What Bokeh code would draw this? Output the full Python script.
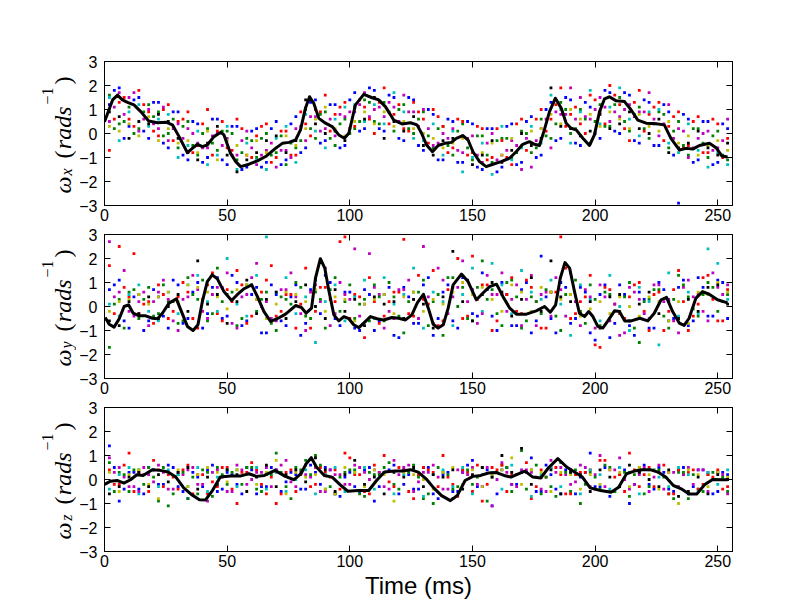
from bokeh.plotting import figure
from bokeh.models import Range1d, LinearAxis, FixedTicker, CustomJSTickFormatter
from bokeh.layouts import column, row
from bokeh.core.properties import value
from bokeh.embed import file_html
from bokeh.resources import INLINE

# ---------------- data ----------------
x_ticks = [0, 50, 100, 150, 200, 250]
y_ticks = [-3, -2, -1, 0, 1, 2, 3]
x_label = "Time (ms)"
y_subs = ["x", "y", "z"]

# sample times of the scattered trial points (ms)
dot_t = list(range(2, 256, 4))      # first group of trials
dot_t2 = list(range(4, 256, 4))     # second group of trials

# ---- omega_x: mean trace ----
t_x = [0, 3.3, 5.3, 7.3, 9.4, 12, 14.8, 18, 21.6, 25, 27.7, 30.4, 33.8, 35.8, 37.9, 39.9, 41.9, 44.6, 47.4, 48.7,
       51.4, 53.5, 55.5, 58.9, 62.3, 65.7, 69.7, 72.5, 75.2, 77.9, 79.9, 81.9, 83.6, 85.3, 87.4, 90.1, 92.8, 95.5, 97.8, 99.6,
       102.3, 105.7, 109.1, 111.8, 114.5, 117.9, 121.3, 124.7, 127.4, 129.3, 131.3, 133.7, 136, 138.7, 141.4, 143.4, 146.1, 148.2, 150.2, 152.9,
       155.6, 158.3, 161.7, 165.1, 167.8, 170.5, 173.2, 175.3, 177.3, 179.3, 181.4, 183.8, 186.2, 188.2, 190.2, 192.3, 195, 197.7, 199.7, 201.8,
       203.8, 205.8, 208.6, 212, 214.7, 217.4, 220.8, 224.8, 228.2, 230.9, 234.4, 237.1, 239.8, 242.5, 246.6, 249.3, 251.7, 254]
w_x = [0.49, 1.4, 1.6, 1.4, 1.3, 1.19, 0.91, 0.52, 0.45, 0.47, 0.36, -0.13, -0.8, -0.62, -0.45, -0.55, -0.48, -0.13, 0.05, -0.06,
       -0.83, -1.17, -1.38, -1.28, -1.14, -0.96, -0.62, -0.41, -0.37, -0.27, 0.15, 1.05, 1.53, 1.26, 0.63, 0.43, 0.29, -0.06, -0.2, 0.01,
       1.19, 1.63, 1.49, 1.4, 1.12, 0.56, 0.4, 0.45, 0.36, 0.0, -0.48, -0.76, -0.5, -0.41, -0.37, -0.2, -0.09, -0.27, -0.76, -1.17,
       -1.38, -1.28, -1.17, -1.03, -0.76, -0.45, -0.34, -0.45, -0.5, 0.15, 0.91, 1.47, 1.05, 0.43, 0.22, 0.15, -0.2, -0.5, -0.06, 0.91,
       1.44, 1.53, 1.36, 1.33, 0.98, 0.56, 0.43, 0.41, 0.36, -0.2, -0.69, -0.62, -0.65, -0.5, -0.41, -0.59, -0.94, -0.98]

# ---- omega_x: trial points per colour ----
x_b = [1.2, 1.9, 0.3, 1.5, -0.2, 1.3, -0.6, 0.9, -1.1, 0.4, -1.0, 0.6, -1.3, 0.3, -1.4, 0.2,
       -1.2, 0.5, -1.1, 0.7, -0.6, 1.4, -0.3, 1.2, -0.5, 1.7, 0.2, 1.8, 0.1, 1.5, -0.3, 1.4,
       -0.7, 0.8, -1.1, 0.5, -1.2, 0.4, -1.5, 0.2, -1.4, 0.4, -1.2, 0.7, -0.9, 1.3, -0.2, 1.4,
       -0.5, 1.1, -0.2, 1.7, 0.0, 1.6, -0.4, 1.3, -0.5, 0.9, -2.9, 0.6, -1.1, 0.5, -1.2, 0.2]
x_g = [1.6, 0.4, 1.1, 0.2, 1.2, 0.9, 0.0, -0.6, 0.5, -0.9, 0.2, -0.7, 0.1, -1.1, -0.2, -1.0,
       0.0, -0.8, -1.3, -0.6, 1.0, -0.2, 0.9, -0.5, 0.6, 0.2, 1.4, 0.5, 1.3, 0.1, 1.2, 0.0,
       0.9, -0.6, 0.3, -0.9, 0.4, -1.1, -0.1, -1.2, -0.2, -1.0, 0.1, -0.8, 0.6, -0.2, 1.3, 0.0,
       1.0, -0.4, 1.2, 0.3, 1.5, 0.1, 1.1, -0.2, 0.9, -0.6, 0.5, -0.9, 0.2, -1.0, 0.1, -1.1]
x_r = [-0.7, 1.3, 0.6, 1.8, 0.9, -0.1, 1.2, 0.5, 0.9, -0.5, 1.0, 0.1, -0.6, 0.6, -0.9, -0.1,
       0.4, -1.0, 0.1, -0.9, 0.4, 1.0, 1.6, 0.8, 1.3, 0.3, 1.1, 0.0, 1.9, 0.8, 0.2, 1.3,
       0.6, 1.0, 0.3, -0.6, 0.5, -0.8, 0.2, -1.0, -0.3, -1.3, 0.6, -0.4, 1.0, 0.6, 1.9, 0.8,
       0.4, 1.6, 0.9, 2.0, 1.2, -0.3, 1.8, 0.8, 1.3, 0.3, 0.9, -0.5, 0.7, -0.8, 0.4, -0.2]
x_c = [1.5, -0.3, 0.9, 1.2, 0.3, 0.6, 0.8, -1.0, -0.5, 0.1, -1.3, -0.9, 0.3, -1.5, -0.4, -1.1,
       -1.5, -0.2, 0.3, -1.2, 0.8, 0.1, -0.6, 0.6, 1.1, 1.2, 0.5, 1.2, 0.4, 1.7, 0.9, -0.2,
       -0.3, 0.4, -0.9, 0.1, -1.6, -1.0, -0.4, -1.7, 0.3, -1.1, -0.6, 0.3, -0.4, 1.6, 1.0, -0.4,
       0.9, 1.8, 0.4, 1.1, 1.9, 0.6, -0.1, 0.9, 1.0, -0.4, -0.8, 0.4, -0.7, -1.4, -0.8, -1.3]
x_m = [0.5, 1.7, 1.5, 0.1, 1.0, 0.2, -0.3, 0.4, 0.2, -0.4, -0.6, 0.0, -0.2, -0.9, 0.1, -1.3,
       -0.7, -1.4, -0.7, 0.2, -0.3, 0.7, 0.2, -0.1, 0.7, 0.9, 1.7, 1.0, 0.7, 1.1, 1.6, 0.9,
       1.0, -0.5, 0.0, 0.2, -0.8, -0.1, -1.2, 0.0, -0.9, -0.3, -1.5, -1.4, 0.2, -0.6, 0.8, 1.9,
       1.5, 0.6, 1.5, 0.5, 0.7, 1.2, 0.9, 1.7, -0.1, 1.2, 0.2, -1.0, -0.2, 0.1, -0.6, 0.6]
x_y = [0.3, 0.1, 0.4, -0.1, 0.7, -0.3, 0.2, -0.4, -0.3, -0.8, 0.1, -1.1, -0.3, -0.5, -0.9, -0.3,
       -0.8, -0.6, -0.1, -0.5, 0.2, 0.6, 1.1, 0.2, -0.1, 0.5, 0.9, 0.4, 0.9, 0.3, 0.5, 0.2,
       0.0, -0.2, -0.6, -0.4, -0.2, -0.7, -0.8, -0.4, -0.9, -0.2, -0.5, 0.1, 0.2, 0.8, 0.4, 1.0,
       0.6, 0.8, 0.3, 0.9, 0.6, 0.2, 0.8, 0.3, 0.1, 0.5, -0.4, -0.1, -0.9, -0.5, -0.3, -0.7]
x_k = [0.9, 0.7, -0.2, 0.5, 0.4, 0.8, 0.5, -0.2, -0.8, -1.1, -0.4, 0.3, -0.9, -1.6, -1.1, -0.8,
       -0.3, -0.1, -0.8, -0.3, 1.4, 0.4, 0.0, 0.1, -0.3, 1.1, 0.6, 1.5, -0.2, 0.5, 0.1, 0.7,
       -0.5, -0.9, -0.3, -0.2, -0.1, -1.3, -0.9, -0.3, -1.2, -0.7, 0.0, -0.5, -0.2, 1.9, 0.3, 0.2,
       -0.1, 0.1, 0.8, 0.2, 0.4, 0.9, 0.2, 0.0, 0.6, -0.8, -0.6, -0.4, 0.1, -0.6, -0.9, -0.4]
# second group (times dot_t2)
x2_b = [1.8, -0.2, 1.4, 0.1, 1.3, -0.4, 0.9, -0.9, 0.5, -1.2, 0.6, -1.1, 0.3, -1.5, 0.1, -1.4,
        0.2, -1.3, 0.4, -0.8, 1.3, -0.4, 1.2, -0.6, 1.4, 0.1, 1.9, 0.2, 1.6, -0.2, 1.5, -0.5,
        1.0, -1.1, 0.6, -1.2, 0.5, -1.4, 0.2, -1.6, 0.3, -1.3, 0.5, -1.0, 1.0, -0.3, 1.5, -0.4,
        1.3, 0.0, 1.8, 0.1, 1.7, -0.3, 1.4, -0.5, 1.2, -0.9, 0.8, -1.2, 0.5, -1.3, 0.4]
x2_r = [0.6, 1.5, 0.3, 1.2, 0.1, 1.0, -0.3, 0.6, -0.8, 0.4, -0.9, 0.5, -0.7, 0.2, -1.0, 0.3,
        -1.2, 0.1, -0.9, 0.9, -0.1, 0.9, 0.1, 1.1, 0.2, 1.4, 0.6, 1.3, 0.4, 1.2, 0.1, 0.9,
        -0.4, 0.7, -0.8, 0.6, -0.9, 0.3, -1.1, 0.2, -1.0, 0.4, -0.7, 0.6, 0.1, 1.2, 0.3, 1.1,
        0.0, 1.4, 0.4, 1.6, 0.2, 1.3, 0.1, 1.1, -0.3, 0.7, -0.6, 0.5, -0.8, 0.6, -1.0]
x2_m = [1.1, 0.8, 1.7, 0.6, 0.4, 1.1, 0.2, -0.2, 0.0, -0.6, -0.1, -0.5, -0.9, -0.3, -0.6, -0.9,
        -0.4, -0.7, -1.0, 0.3, 0.7, 0.1, 0.6, 0.8, 0.9, 1.2, 0.7, 1.1, 1.3, 0.5, 0.9, 0.3,
        0.2, -0.4, -0.2, -0.7, -0.2, -0.9, -0.4, -1.1, -0.7, -0.5, -0.2, -0.3, 0.6, 0.9, 0.8, 0.6,
        0.7, 1.0, 1.1, 0.9, 1.0, 0.7, 0.9, 0.6, 0.4, -0.2, 0.1, -0.6, 0.0, -0.7, -0.3]
x2_g = [0.2, 0.5, 0.0, 0.9, 0.7, -0.1, 0.6, 0.3, -0.5, 0.0, -0.4, 0.1, 0.0, -0.8, -0.3, -0.2,
        -0.9, -0.1, -0.4, -0.3, 0.2, 0.8, -0.2, 0.4, 0.0, 0.5, 1.3, 0.4, 0.9, 1.0, 0.2, 0.6,
        -0.1, 0.2, -0.5, 0.1, -0.6, -0.1, -0.9, -0.3, -0.2, -0.8, 0.0, -0.6, -0.1, 0.4, 1.0, 0.2,
        0.6, 0.5, 0.3, 1.2, 0.5, 0.8, 0.2, 0.4, 0.8, 0.1, -0.5, 0.2, -0.4, -0.1, -0.9]

# ---- omega_y: mean trace ----
t_y = [0.3, 1.9, 3.9, 6, 8, 9.8, 11.7, 14.1, 16.8, 19.5, 21.6, 23.6, 26.3, 29.3, 31.1, 33.8, 36.1, 38.1, 39.9, 41.9,
       43.9, 46, 48.7, 51.8, 54.1, 56.9, 60, 62.3, 65, 67.7, 70.4, 73.8, 77.9, 80.3, 82.2, 84.4, 86, 88, 89.8, 91.4,
       93.5, 95.5, 97.6, 99.6, 101.6, 103.7, 106.4, 108.4, 111.1, 113.8, 117.2, 119.9, 122.7, 125.3, 127.5, 130, 132, 134, 136, 138.1,
       140.1, 142.1, 145.5, 148.2, 151.6, 154.3, 157, 159.8, 162.4, 165.2, 167.9, 172, 176, 179.4, 181.7, 183.9, 185.8, 187.7, 189.6, 191.6,
       193.6, 195.7, 197.4, 199.1, 201.1, 203.1, 205.2, 207.9, 209.9, 212.1, 214.7, 218.2, 221.5, 224.1, 226.9, 229.1, 231.6, 234.3, 236.3, 238.3,
       241.1, 243.8, 246.5, 249.9, 254]
w_y = [-0.46, -0.74, -0.86, -0.51, 0, 0.07, -0.28, -0.39, -0.39, -0.49, -0.51, -0.28, 0.14, 0.32, -0.14, -0.83, -1.0, -0.76, 0.21, 1.04,
       1.32, 1.15, 0.62, 0.25, 0.49, 0.74, 0.9, 0.42, -0.21, -0.62, -0.51, -0.32, 0.04, -0.04, -0.28, -0.07, 1.18, 1.99, 1.6, 0.69,
       -0.35, -0.6, -0.42, -0.51, -0.76, -0.88, -0.62, -0.42, -0.51, -0.56, -0.46, -0.49, -0.56, -0.35, 0.15, 0.51, -0.07, -0.74, -0.9, -0.76,
       -0.07, 0.9, 1.35, 1.04, 0.28, 0.56, 0.83, 0.93, 0.42, -0.07, -0.32, -0.32, -0.18, 0, -0.24, 0.07, 1.18, 1.83, 1.6, 0.62,
       -0.28, -0.42, -0.21, -0.42, -0.83, -0.9, -0.6, -0.18, -0.21, -0.6, -0.6, -0.49, -0.6, -0.28, 0.28, 0.38, -0.21, -0.69, -0.79, -0.49,
       0.35, 0.62, 0.51, 0.28, 0.15]

# ---- omega_y: trial points per colour ----
y_b = [0.7, 1.1, -0.9, 0.5, -0.6, 0.4, -0.9, 0.9, -0.5, 1.0, -0.3, 1.2, -0.4, 1.0, -0.6, 0.8,
       -1.1, 0.5, -0.8, 0.9, -0.7, 1.1, 1.3, -0.5, 0.6, -0.9, 0.7, -1.0, 0.5, -1.2, 0.8, -0.7,
       0.9, -1.2, 0.6, -0.6, 1.2, -0.3, 1.4, -0.4, 1.0, -0.8, 0.7, -1.1, 2.1, -0.5, 1.0, -0.7,
       0.8, -1.1, 0.5, -1.3, 0.9, -0.8, 0.6, -0.9, 1.0, -0.6, 0.8, -0.8, 1.2, -0.4, 1.1, -0.5]
y_g = [-1.7, 0.3, 0.6, -0.5, 0.8, -0.3, 0.2, -0.7, 1.2, 0.3, -0.6, 1.6, 0.5, -0.8, 0.9, -0.2,
       0.6, -1.0, 0.3, 1.0, -0.4, 0.6, -0.9, 1.2, 0.2, -0.5, 0.3, 0.9, -0.6, 0.4, -1.1, 0.6,
       1.1, 0.2, -1.2, 1.2, 0.8, -0.6, 1.9, 0.7, -0.8, 1.1, -0.9, 0.4, -0.3, 0.6, -1.0, 0.5,
       -0.2, 0.9, -0.8, 0.5, -0.2, 1.0, -1.5, 0.3, 0.7, -0.9, 1.3, 0.4, -0.4, 1.0, -0.2, 0.5]
y_r = [1.7, 2.5, 0.4, -0.3, 0.2, 0.9, -0.5, 0.4, 0.6, -0.9, 0.9, -0.3, 0.7, 1.5, -0.7, 0.3,
       1.1, -0.4, 0.5, -0.9, 1.6, -0.2, 0.8, 0.2, 2.9, 0.5, -1.3, 0.2, -0.4, 0.6, 2.8, -0.4,
       0.3, 1.5, -0.6, 0.8, -0.5, 2.1, 0.9, -1.0, 0.5, 1.2, -0.3, 0.8, -0.9, 0.6, 2.9, -0.5,
       0.2, 1.3, -1.7, 0.7, -0.3, 0.4, 1.0, -1.0, 0.6, -0.2, 1.5, -1.0, 0.1, 1.3, -0.6, 0.7]
y_c = [0.1, -0.4, 0.5, 0.9, -0.2, -0.6, 0.6, -0.3, 0.9, 1.3, 0.2, -0.2, 2.0, 0.1, -0.4, 1.3,
       2.9, 0.6, 1.2, -0.3, 0.4, -1.5, 0.2, 0.9, -0.6, 0.4, 1.1, -0.5, 1.2, 0.1, 0.5, 1.6,
       -0.9, 0.6, 0.2, -0.8, 0.5, 1.6, -0.2, 1.8, 0.9, -0.3, 1.5, 0.6, 0.3, 1.1, 0.1, -1.2,
       0.9, 0.3, -0.6, 1.3, 0.0, -1.0, 0.8, 0.2, -1.6, 1.4, -0.4, 0.6, -0.3, 2.4, 1.8, 0.3]
y_m = [2.7, 0.6, -0.2, 0.2, -0.8, 0.6, 0.3, -1.0, 0.4, 0.7, -0.5, 0.8, 1.4, -0.9, 0.5, 1.8,
       0.2, -0.6, 0.7, 0.4, -1.0, 0.9, 1.6, -0.3, 0.5, 2.4, 0.1, 0.8, -0.9, -0.5, 0.7, 0.3,
       2.5, -0.7, 1.1, 0.4, 1.9, 0.7, -0.3, 0.5, 1.4, 0.3, -0.8, 1.3, 0.5, -0.4, 0.7, 1.4,
       -0.8, 0.4, 0.9, -0.6, -1.2, 0.8, 0.3, -0.5, 0.9, 0.3, -1.1, 1.1, 0.5, -0.6, 0.8, 0.9]
y_y = [-0.2, 0.2, 0.3, 0.5, 0.1, 0.4, 0.6, 0.2, 0.9, 0.8, 0.6, 0.4, -0.1, 0.7, 0.9, 0.3,
       -0.5, 0.1, 0.6, 0.5, 0.2, 0.7, -0.2, 0.4, 0.3, -0.6, 0.1, 0.3, 0.5, -0.3, 0.4, 0.6,
       -0.2, 0.3, 0.1, 0.6, 1.0, 0.5, 0.8, 0.3, -0.2, 0.9, 0.6, -0.2, 0.8, 0.6, 0.3, 0.5,
       -0.4, -0.1, 0.2, -0.3, 0.4, 0.0, -0.4, 0.4, 0.2, -0.6, 0.2, -0.7, 0.6, 0.5, 1.0, 0.6]
y_k = [-0.6, -0.8, 0.2, -0.3, 0.4, -0.5, 0.0, 0.5, -0.2, 1.9, 0.1, 0.5, -0.7, 0.2, 1.1, -0.3,
       0.3, 0.6, -0.5, 0.2, 0.9, 0.0, -0.5, 0.7, -0.2, 0.3, -0.8, 0.4, 0.1, 0.2, -0.5, 0.3,
       0.1, -0.9, 0.4, 2.3, 0.2, -0.6, 0.5, 1.0, 0.6, -0.4, 0.3, 1.2, -0.2, 1.9, 0.4, 0.2,
       -0.3, 0.2, -0.9, 0.4, 0.5, -0.6, 0.1, 0.6, -0.3, 0.2, -0.5, 0.3, -0.2, 0.8, 0.9, 0.1]
# second group (times dot_t2)
y2_b = [0.9, -0.6, 0.4, -1.0, 0.7, -0.4, 1.1, -0.7, 0.6, -0.9, 0.8, -0.5, 1.3, -0.8, 0.5, -1.1,
        0.9, -0.6, 0.4, -1.2, 0.7, -0.3, 1.0, -0.8, 0.6, -1.0, 0.5, -0.6, 0.8, -1.3, 0.4, -0.7,
        1.2, -0.5, 0.9, -0.9, 1.1, -0.4, 0.7, -1.0, 0.5, -0.8, 1.0, -0.6, 0.4, -1.1, 0.8, -0.5,
        0.6, -1.4, 0.9, -0.7, 0.5, -1.2, 0.3, -0.9, 0.7, -0.5, 1.1, -0.6, 0.8, -0.4, 1.0]
y2_r = [-0.3, 0.8, 2.2, 0.1, -0.7, 0.5, -0.2, 1.0, -0.5, 0.3, 1.4, -0.6, 0.2, 0.9, -0.4, 0.6,
        1.7, -0.2, 0.5, 0.1, -0.9, 0.8, 0.3, 2.7, -0.5, 0.4, 1.2, -0.7, 0.2, 0.6, -0.3, 1.3,
        0.1, -0.8, 0.7, 2.0, -0.4, 0.3, 0.9, -0.6, 0.5, -0.2, 1.1, 0.2, -0.9, 0.6, 1.6, -0.3,
        0.4, -1.6, 0.8, 0.1, -0.5, 0.9, -0.2, 0.5, -1.0, 0.7, 0.2, -0.4, 1.2, 0.3, -0.6]
y2_m = [0.4, 1.5, -0.4, 0.6, 0.2, 1.1, -0.6, 0.3, 1.3, -0.2, 0.5, 0.8, -0.7, 0.4, 1.2, 0.0,
        -0.5, 0.7, 1.4, -0.3, 0.6, 0.2, -0.8, 1.0, 0.3, -0.4, 2.2, 0.5, -0.2, 0.7, 1.1, -0.5,
        0.4, 1.6, -0.3, 0.8, 0.2, -0.7, 1.3, 0.5, -0.2, 0.9, 0.3, -0.8, 0.6, 1.2, -0.4, 0.2,
        0.7, -0.9, 0.4, 0.1, -1.1, 0.6, -0.3, 0.9, 0.2, -0.6, 0.8, 0.4, -0.2, 1.4, 0.5]
y2_g = [0.1, -0.9, 0.7, 0.3, -0.4, 0.9, 0.2, -0.6, 0.5, 1.1, -0.3, 0.2, 0.6, -0.5, 0.9, 0.3,
        -0.7, 0.4, 0.1, 0.8, -0.5, 0.3, 0.7, -0.2, 0.9, 0.1, -0.6, 0.4, 1.0, -0.4, 0.2, 0.6,
        -0.8, 0.5, 1.2, 0.0, -0.5, 0.8, 0.3, -0.3, 1.0, 0.4, -0.6, 0.2, 0.7, -0.4, 0.5, 1.1,
        -0.7, 0.3, 0.6, -0.2, 0.4, -0.9, 0.2, 0.7, -0.4, 0.3, 0.9, -0.1, 0.5, 0.8, 0.2]

# ---- omega_z: mean trace ----
t_z = [0, 2.5, 5.1, 7.9, 10.6, 13.2, 15.7, 19.5, 22.7, 25.9, 29.1, 32.3, 35.5, 38.7, 41.2, 44, 47.2, 51.4, 55.6, 58.8,
       62, 65.2, 69.5, 73.7, 77.3, 80.1, 82.2, 84.3, 86.4, 89.6, 92.8, 96, 99.2, 103.4, 107.7, 110.9, 114.1, 118.3, 121.5, 124.7,
       127.9, 131.1, 134.2, 137.4, 141, 143.8, 147, 150.2, 153.4, 156.5, 159.7, 162.9, 165.7, 168.2, 171.4, 174.6, 177.8, 181, 184.8, 188.4,
       191.6, 194.8, 198, 202.2, 206.5, 209.6, 212.8, 216, 219.2, 222.4, 225.6, 228.8, 231.9, 235.1, 238.3, 241.5, 244.7, 247.9, 252.1, 254]
w_z = [-0.21, -0.07, -0.04, -0.15, -0.01, 0.2, 0.17, 0.41, 0.38, 0.31, 0.1, -0.35, -0.63, -0.84, -0.85, -0.46, 0.1, 0.15, 0.15, 0.24,
       0.13, 0.17, 0.38, 0.13, -0.01, 0.24, 0.66, 0.91, 0.52, 0.17, 0.1, -0.21, -0.49, -0.46, -0.46, -0.04, 0.31, 0.35, 0.35, 0.41,
       0.31, 0.03, -0.35, -0.67, -0.88, -0.67, -0.04, 0.13, 0.17, 0.27, 0.29, 0.17, 0.1, 0.21, 0.35, 0.1, 0.06, 0.49, 0.87, 0.52,
       0.31, 0.1, -0.35, -0.46, -0.53, -0.32, 0.24, 0.35, 0.41, 0.41, 0.31, 0.1, -0.25, -0.39, -0.6, -0.6, -0.21, 0, -0.01, -0.01]

# ---- omega_z: trial points per colour ----
z_b = [1.4, -0.9, 0.3, -0.4, 0.5, -0.2, 0.6, -0.3, -0.8, 0.1, 0.4, -0.5, 0.3, -0.2, 0.5, -0.6,
       -0.3, 0.4, -0.1, 0.2, -0.4, 0.3, 0.5, -0.6, 0.1, -0.3, 0.4, -0.9, 0.3, 0.6, -0.2, -0.4,
       0.5, -0.6, 0.2, -0.5, 0.3, 0.8, -0.3, -1.1, 0.4, -0.2, 0.3, 0.9, -0.5, 0.2, -0.6, 0.4,
       0.1, 1.1, -0.3, -0.7, 0.5, -1.0, 0.3, -0.2, 0.5, -0.4, 0.4, -0.6, 0.4, 0.3, -0.5, 0.2]
z_g = [0.7, 0.3, -0.5, 0.4, 0.5, -0.9, -1.1, 0.2, -0.8, -0.6, 0.3, 0.5, -0.2, 0.4, 0.5, -0.4,
       0.2, 1.1, -0.3, 0.5, 0.8, 1.0, -0.4, -0.6, 0.3, 0.4, -0.7, 0.2, 0.5, -0.2, 0.4, 0.6,
       -0.8, -1.0, 0.3, -0.4, 0.4, -0.2, 0.5, 0.1, 0.6, -0.5, 1.2, 0.4, -0.6, -0.3, 0.7, -0.5,
       -1.0, 0.3, -0.4, 0.5, 0.2, -0.7, 0.5, -0.3, 0.4, -0.6, 0.3, -0.8, -0.4, 0.2, 0.3, -0.5]
z_r = [0.4, -0.2, 1.1, 0.3, -0.5, 0.4, 0.2, -0.4, 0.6, 0.2, -0.6, -0.3, 0.5, -1.0, 0.3, 0.4,
       -0.6, -1.0, 0.3, -0.5, 0.6, -0.2, 0.3, 0.4, 1.1, 0.2, -0.5, 0.6, 1.0, -0.3, 0.4, -0.8,
       0.5, 0.3, 1.0, -0.2, 0.4, -0.5, -0.9, 0.5, 0.6, 0.2, 0.3, -0.8, 0.4, 0.5, 0.2, -0.6,
       0.3, 0.4, 0.8, -0.5, 0.2, 1.1, -0.3, 0.5, 0.3, -0.6, 0.4, 0.3, -0.4, 0.2, 0.4, -0.3]
z_c = [-0.4, 0.2, 0.5, -0.6, 0.3, -0.3, 0.4, 0.2, -0.3, 0.5, -0.5, 0.1, 0.4, -0.3, 0.2, 0.5,
       -0.4, 0.3, -0.5, 0.0, 0.4, -0.6, 0.2, 0.5, -0.5, 0.3, 0.5, -0.4, 0.3, -0.6, 0.2, 0.4,
       -0.7, 0.2, 0.4, -0.3, 0.5, -0.6, 0.2, 0.3, -0.4, 0.6, 0.3, -0.7, 0.2, 0.5, -0.3, 0.3,
       -0.6, 0.4, 0.2, -0.4, 0.5, 0.3, -0.6, 0.4, 0.1, -0.3, 0.5, 0.2, -0.5, 0.3, -0.2, 0.4]
z_m = [0.9, 0.5, -0.3, -0.5, 0.2, 0.6, -0.4, 0.3, 0.4, -0.2, -0.9, 0.4, -0.5, 0.6, -0.2, 0.3,
       0.5, 0.4, 0.8, -0.3, 0.2, 0.5, -0.5, 0.2, -0.2, 0.6, 0.3, 0.4, -0.3, 0.8, 0.5, -0.5,
       0.3, 0.6, -0.4, -0.8, 0.3, 0.5, -0.3, -1.1, 0.7, -0.2, 0.4, 0.3, -0.4, 0.8, 0.5, -0.2,
       0.6, -0.3, 1.0, 0.4, 0.9, -0.4, 0.2, -0.5, 0.6, 0.3, -0.3, 0.5, 0.4, -0.5, 0.3, -0.6]
z_y = [0.3, -0.5, 0.2, 0.4, -0.2, -0.8, 0.3, 0.4, -0.3, 0.2, 0.5, 0.3, -0.1, 0.4, 0.2, -0.2,
       0.3, 0.8, -0.6, 0.3, 0.1, 0.2, -0.4, -0.6, 0.5, 0.3, -0.3, 0.4, 0.2, -0.9, 0.3, 0.2,
       0.0, -0.4, 0.3, 0.5, -0.2, 0.4, -0.3, 0.2, 0.4, 0.9, -0.2, 0.4, 0.3, -0.5, 0.3, 0.2,
       -0.4, 0.2, -0.2, 0.4, 0.3, -0.3, 0.5, 0.2, -0.4, 0.3, -1.0, 0.4, 0.2, -0.3, 0.3, 0.1]
z_k = [-0.6, -0.3, 0.1, 0.3, -0.3, 0.2, -0.1, 0.3, 0.5, -0.4, 0.1, -0.2, 0.4, 0.2, -0.5, 0.1,
       0.6, -0.3, 0.2, 0.4, -0.1, 0.9, 0.4, -0.5, 0.2, 0.8, -0.2, 0.1, -0.6, 0.3, 0.1, 0.5,
       -0.3, 0.2, 0.1, 0.4, -0.4, 0.2, 0.5, 0.1, 1.0, 0.3, 1.3, -0.2, 0.1, 0.4, -0.6, 0.3,
       0.2, -0.5, 0.4, 0.1, -0.3, 0.6, 0.3, 0.0, -0.3, 0.4, -0.7, -0.5, 0.1, -0.6, 0.2, 0.0]
# second group (times dot_t2)
z2_b = [0.5, -0.4, 0.3, -0.6, 0.4, -0.2, 0.5, -0.5, 0.3, -0.3, 0.6, -0.4, 0.2, -0.6, 0.4, -0.3,
        0.5, -0.5, 0.3, -0.4, 0.6, -0.2, 0.4, -0.7, 0.3, -0.5, 0.5, -0.3, 0.4, -0.6, 0.2, -0.4,
        0.5, -0.8, 0.3, -0.5, 0.6, -0.3, 0.4, -0.6, 0.5, -0.2, 0.3, -0.5, 0.6, -0.4, 0.4, -0.6,
        0.3, -0.3, 0.5, -0.5, 0.4, -0.2, 0.6, -0.4, 0.3, -0.5, 0.5, -0.3, 0.4, -0.6, 0.3]
z2_r = [-0.2, 0.6, -0.5, 0.2, 0.8, -0.3, 0.1, 0.4, -0.6, 0.2, -0.1, 0.5, -0.4, 0.3, 0.7, -0.2,
        0.1, -0.6, 0.4, 0.2, -0.3, 0.5, 0.1, -0.4, 0.9, 0.2, -0.6, 0.3, -0.1, 0.5, -0.5, 0.2,
        0.4, -0.3, 0.1, -0.7, 0.3, 0.6, -0.2, 0.4, -0.5, 0.2, 0.7, -0.3, 0.1, 0.5, -0.6, 0.2,
        0.3, -0.4, 0.8, 0.1, -0.5, 0.4, 0.2, -0.3, 0.6, -0.6, 0.2, 0.4, -0.2, 0.1, -0.4]
z2_m = [0.3, 0.1, -0.3, 0.5, -0.1, 0.3, -0.4, 0.2, 0.5, -0.2, 0.3, 0.1, -0.5, 0.4, 0.0, 0.3,
        -0.3, 0.6, -0.1, 0.3, 0.1, -0.5, 0.4, 0.2, -0.2, 0.5, 0.0, 0.3, -0.4, 0.2, 0.6, -0.1,
        0.3, 0.1, -0.4, 0.4, 0.2, -0.2, 0.5, 0.0, 0.3, -0.3, 0.4, 0.1, -0.5, 0.3, 0.2, -0.1,
        0.5, 0.2, -0.3, 0.4, 0.0, -0.2, 0.5, 0.1, -0.4, 0.3, 0.2, -0.2, 0.4, 0.0, 0.2]
z2_g = [-0.5, 0.2, 0.4, -0.2, 0.1, 0.5, -0.6, 0.3, 0.1, 0.4, -0.7, 0.2, 0.3, -0.2, 0.5, -0.5,
        0.2, 0.3, -0.8, 0.4, 0.2, 0.6, -0.3, 0.1, 0.4, -0.6, 0.3, 0.2, 0.7, -0.4, 0.3, 0.1,
        -0.6, 0.5, 0.2, -0.3, 0.4, 0.1, -0.9, 0.3, 0.5, 0.2, -0.4, 0.6, 0.1, -0.7, 0.3, 0.4,
        -0.2, 0.1, 0.6, -0.5, 0.3, 0.2, -0.6, 0.4, 0.1, -0.8, 0.3, 0.2, -0.5, 0.3, 0.1]

# matplotlib classic colour cycle b g r c m y k
cycle_colors = ["#0000ff", "#008000", "#ff0000", "#00bfbf", "#bf00bf", "#bfbf00", "#000000"]
cycle_colors2 = ["#0000ff", "#ff0000", "#bf00bf", "#008000"]

panels = [
    dict(t=t_x, w=w_x, dots=[x_b, x_g, x_r, x_c, x_m, x_y, x_k], dots2=[x2_b, x2_r, x2_m, x2_g]),
    dict(t=t_y, w=w_y, dots=[y_b, y_g, y_r, y_c, y_m, y_y, y_k], dots2=[y2_b, y2_r, y2_m, y2_g]),
    dict(t=t_z, w=w_z, dots=[z_b, z_g, z_r, z_c, z_m, z_y, z_k], dots2=[z2_b, z2_r, z2_m, z2_g]),
]

SANS = "Liberation Sans"
SERIF = "Liberation Serif"

LAB_W = 76          # width of the strip holding the rotated y labels
TOTAL_H = 612
tick_fmt = CustomJSTickFormatter(code="return tick < 0 ? '\\u2212' + Math.abs(tick) : String(tick);")


def style_axis(ax, ticks, show_labels, standoff):
    ax.ticker = FixedTicker(ticks=ticks)
    ax.major_tick_in = 6
    ax.major_tick_out = 0
    ax.minor_tick_line_color = None
    ax.axis_line_color = "black"
    ax.axis_line_width = 1
    ax.major_tick_line_color = "black"
    ax.major_tick_line_width = 1
    if show_labels:
        ax.formatter = tick_fmt
        ax.major_label_text_font = SANS
        ax.major_label_text_font_size = "16px"
        ax.major_label_text_color = "black"
        ax.major_label_standoff = standoff
    else:
        ax.formatter = CustomJSTickFormatter(code="return '';")
        ax.major_label_text_font_size = "0px"
        ax.major_label_standoff = 0


def make_panel(cfg, height, top, bottom, last):
    p = figure(width=812 - LAB_W, height=height, x_range=Range1d(0, 256), y_range=Range1d(-3, 3),
               output_backend="svg", toolbar_location=None,
               min_border_left=102 - LAB_W, min_border_right=80, min_border_top=top, min_border_bottom=bottom)
    p.background_fill_color = "white"
    p.border_fill_color = "white"
    p.outline_line_color = "black"
    p.outline_line_width = 1
    p.xgrid.grid_line_color = None
    p.ygrid.grid_line_color = None

    bottom_ax = p.below[0]
    left_ax = p.left[0]
    style_axis(bottom_ax, x_ticks, True, 3)
    style_axis(left_ax, y_ticks, True, 7)
    top_ax = LinearAxis()
    style_axis(top_ax, x_ticks, False, 0)
    p.add_layout(top_ax, "above")
    right_ax = LinearAxis()
    style_axis(right_ax, y_ticks, False, 0)
    p.add_layout(right_ax, "right")

    for vals, col in zip(cfg["dots"], cycle_colors):
        n = min(len(vals), len(dot_t))
        p.scatter(dot_t[:n], vals[:n], marker="square", size=2.8, fill_color=col, line_color=None)
    for vals, col in zip(cfg["dots2"], cycle_colors2):
        n = min(len(vals), len(dot_t2))
        p.scatter(dot_t2[:n], vals[:n], marker="square", size=2.8, fill_color=col, line_color=None)

    p.line(cfg["t"], cfg["w"], line_color="black", line_width=3, line_join="round")

    if last:
        bottom_ax.axis_label = x_label
        bottom_ax.axis_label_text_font = SANS
        bottom_ax.axis_label_text_font_size = "24px"
        bottom_ax.axis_label_text_font_style = "normal"
        bottom_ax.axis_label_text_color = "black"
        bottom_ax.axis_label_standoff = 2
    return p


# strip at the left with the rotated labels  omega_sub (rad s^-1)
lab = figure(width=LAB_W, height=TOTAL_H, x_range=Range1d(0, LAB_W), y_range=Range1d(0, TOTAL_H),
             output_backend="svg", toolbar_location=None,
             x_axis_location=None, y_axis_location=None,
             min_border_left=0, min_border_right=0, min_border_top=0, min_border_bottom=0)
lab.xgrid.grid_line_color = None
lab.ygrid.grid_line_color = None
lab.outline_line_color = None
lab.background_fill_color = "white"
lab.border_fill_color = "white"

panel_offsets = [0, 173, 346]   # vertical distance of each panel below the first (px)
# pieces: text, baseline x (px), y of the piece's upper end for panel 1 (px from top), size, style
for sub, off in zip(y_subs, panel_offsets):
    pieces = [
        ("\u03c9", 62, 176, "24px", "italic"),
        (sub, 65.5, 168, "16px", "italic"),
        ("(", 62, 150, "24px", "normal"),
        ("rads", 62, 106, "24px", "italic"),
        ("\u22121", 47, 87, "16px", "normal"),
        (")", 62, 76, "24px", "normal"),
    ]
    for txt, bx, ey, fs, st in pieces:
        lab.text(x=[bx], y=[TOTAL_H - (ey + off)], text=[txt], angle=90, angle_units="deg",
                 text_font=value(SERIF), text_font_size=value(fs), text_font_style=st,
                 text_align="right", text_baseline="alphabetic", text_color="black")

p1 = make_panel(panels[0], 227, 61, 22, False)
p2 = make_panel(panels[1], 173, 7, 22, False)
p3 = make_panel(panels[2], 212, 7, 61, True)

layout = row(lab, column(p1, p2, p3, spacing=0), spacing=0)

open("out.html", "w").write(file_html(layout, INLINE))
